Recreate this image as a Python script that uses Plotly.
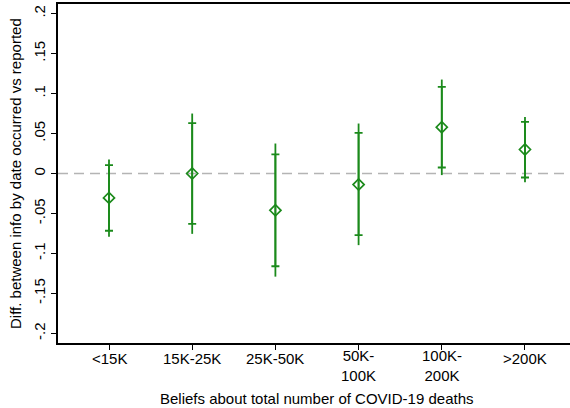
import plotly.graph_objects as go

categories = ["<15K", "15K-25K", "25K-50K", "50K-<br>100K", "100K-<br>200K", ">200K"]
estimate = [-0.0305, 0.0, -0.046, -0.0138, 0.0579, 0.030]
ci90_low = [-0.0716, -0.063, -0.116, -0.077, 0.0075, -0.005]
ci90_high = [0.0104, 0.063, 0.024, 0.0508, 0.1083, 0.0646]
ci95_low = [-0.079, -0.0755, -0.129, -0.0896, -0.002, -0.011]
ci95_high = [0.0175, 0.075, 0.0375, 0.0625, 0.1175, 0.0708]
ytick_vals = [0.2, 0.15, 0.1, 0.05, 0, -0.05, -0.1, -0.15, -0.2]
ytick_text = [".2", ".15", ".1", ".05", "0", "-.05", "-.1", "-.15", "-.2"]
x_title = "Beliefs about total number of COVID-19 deaths"
y_title = "Diff. between info by date occurred vs reported"

green = "#1b8a1b"
font = "Liberation Sans, Arial, sans-serif"
xs = list(range(1, len(categories) + 1))

W, H = 570, 408
L, R, T, B = 58, 0, 4, 65
plot_h = H - T - B


def py_to_paper(py):
    return (H - B - py) / plot_h


fig = go.Figure()
fig.add_hline(y=0, line=dict(color="#b4b4b4", width=1.5, dash="10px,6px"), layer="below")

fig.add_trace(go.Scatter(
    x=xs, y=estimate, mode="markers",
    marker=dict(size=0.1, color=green, opacity=0),
    error_y=dict(type="data", symmetric=False,
                 array=[h - e for h, e in zip(ci95_high, estimate)],
                 arrayminus=[e - l for e, l in zip(estimate, ci95_low)],
                 color=green, thickness=1.8, width=0),
    showlegend=False, hoverinfo="skip"))

fig.add_trace(go.Scatter(
    x=xs, y=estimate, mode="markers",
    marker=dict(symbol="diamond-open", size=8.5, color=green, line=dict(width=1.7, color=green)),
    error_y=dict(type="data", symmetric=False,
                 array=[h - e for h, e in zip(ci90_high, estimate)],
                 arrayminus=[e - l for e, l in zip(estimate, ci90_low)],
                 color=green, thickness=1.8, width=4),
    showlegend=False))

annotations = []
for x, lab in zip(xs, categories):
    two = "<br>" in lab
    annotations.append(dict(
        x=x, xref="x", y=py_to_paper(365.5 if two else 358.7), yref="paper",
        text=lab, showarrow=False, xanchor="center", yanchor="middle",
        font=dict(family=font, size=15, color="black")))
annotations.append(dict(
    x=(317 - L) / (W - L - R), xref="paper", y=py_to_paper(398), yref="paper",
    text=x_title, showarrow=False, xanchor="center", yanchor="middle",
    font=dict(family=font, size=15, color="black")))
annotations.append(dict(
    x=(15 - L) / (W - L - R), xref="paper", y=py_to_paper(174), yref="paper",
    text=y_title, showarrow=False, xanchor="center", yanchor="middle", textangle=-90,
    font=dict(family=font, size=15, color="black")))

fig.update_layout(
    width=W, height=H,
    margin=dict(l=L, r=R, t=T, b=B),
    paper_bgcolor="white", plot_bgcolor="white",
    font=dict(family=font, size=15, color="black"),
    annotations=annotations,
    xaxis=dict(
        range=[0.387, 6.541], tickmode="array", tickvals=xs, ticktext=[""] * len(xs),
        showline=True, linecolor="black", linewidth=1.5, mirror=True,
        ticks="outside", ticklen=5, tickwidth=1, tickcolor="black",
        showgrid=False, zeroline=False, automargin=False,
    ),
    yaxis=dict(
        range=[-0.212, 0.212], tickmode="array", tickvals=ytick_vals, ticktext=ytick_text,
        showline=True, linecolor="black", linewidth=1.5,
        ticks="outside", ticklen=5, tickwidth=1, tickcolor="black",
        tickangle=-90, showgrid=False, zeroline=False, automargin=False,
        tickfont=dict(size=15),
    ),
)

fig.write_html("out.html", config={"displayModeBar": False},
               post_script="document.body.style.margin='0';document.body.style.padding='0';")
